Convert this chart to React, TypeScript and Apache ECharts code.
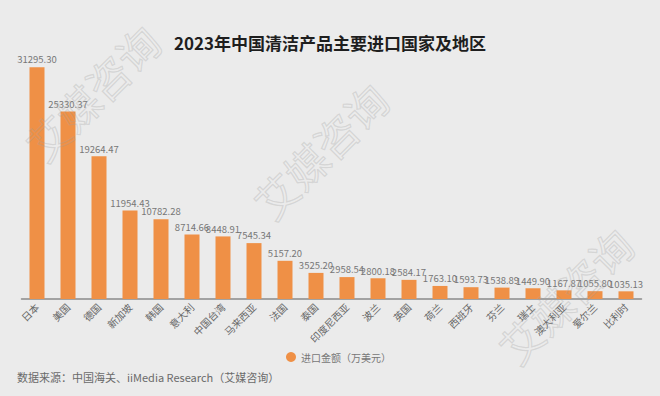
import React, { useEffect, useRef } from "react";
import * as echarts from "echarts";

const categories = ["日本", "美国", "德国", "新加坡", "韩国", "意大利", "中国台湾", "马来西亚", "法国", "泰国", "印度尼西亚", "波兰", "英国", "荷兰", "西班牙", "芬兰", "瑞士", "澳大利亚", "爱尔兰", "比利时"];
const importValues = [31295.30, 25330.37, 19264.47, 11954.43, 10782.28, 8714.66, 8448.91, 7545.34, 5157.20, 3525.20, 2958.54, 2800.18, 2584.17, 1763.10, 1593.73, 1538.89, 1449.90, 1167.87, 1055.80, 1035.13];
const seriesName = "进口金额（万美元）";
const titleText = "2023年中国清洁产品主要进口国家及地区";
const sourceText = "数据来源：中国海关、iiMedia Research（艾媒咨询）";

const FONT = "'Noto Sans CJK SC', 'Noto Sans', sans-serif";

export default function App() {
  const ref = useRef<HTMLDivElement>(null);
  useEffect(() => {
    document.body.style.margin = "0";
    if (!ref.current) return;
    const chart = echarts.init(ref.current, undefined, { renderer: "svg" });
    const wm = (x: number, y: number, rot: number) => ({
      type: "text",
      x,
      y,
      rotation: rot,
      z: 100,
      style: {
        text: "艾媒咨询",
        fontSize: 42,
        fontFamily: FONT,
        fill: "rgba(255,255,255,0)",
        stroke: "rgba(160,160,160,0.3)",
        lineWidth: 1.2,
        align: "center",
        verticalAlign: "middle",
      },
      silent: true,
    });
    chart.setOption({
      animation: false,
      backgroundColor: "#ebebeb",
      title: {
        text: titleText,
        left: "center",
        top: 29,
        textStyle: { fontSize: 17, fontWeight: 600, color: "#1e1e1e", fontFamily: FONT },
      },
      legend: {
        left: 281,
        top: 347,
        icon: "circle",
        itemWidth: 10,
        itemHeight: 10,
        itemGap: 4,
        textStyle: { fontSize: 10, color: "#777", fontFamily: FONT },
        data: [seriesName],
      },
      grid: { left: 21.5, right: 18.5, top: 62, bottom: 97, containLabel: false },
      xAxis: {
        type: "category",
        data: categories,
        axisLine: { lineStyle: { color: "#8a8a8a", width: 1.5 } },
        axisTick: { show: false },
        axisLabel: { rotate: 45, fontSize: 10, color: "#666", fontFamily: FONT, interval: 0, margin: 6 },
      },
      yAxis: {
        type: "value",
        min: 0,
        max: 32000,
        show: false,
        splitLine: { show: false },
      },
      series: [
        {
          name: seriesName,
          type: "bar",
          data: importValues,
          barWidth: 15,
          itemStyle: { color: "#ef9046" },
          label: {
            show: true,
            position: "top",
            distance: 3,
            fontSize: 9.5,
            color: "#777",
            fontFamily: FONT,
            formatter: (p: any) => Number(p.value).toFixed(2),
          },
        },
      ],
      graphic: [
        {
          type: "text",
          left: 17,
          top: 371,
          style: { text: sourceText, fontSize: 11, fill: "#6a6a6a", fontFamily: FONT },
        },
        wm(92, 92, Math.PI / 4),
        wm(320, 150, Math.PI / 4),
        wm(565, 295, Math.PI / 4),
      ],
    });
    return () => chart.dispose();
  }, []);
  return <div ref={ref} style={{ width: 660, height: 396 }} />;
}
